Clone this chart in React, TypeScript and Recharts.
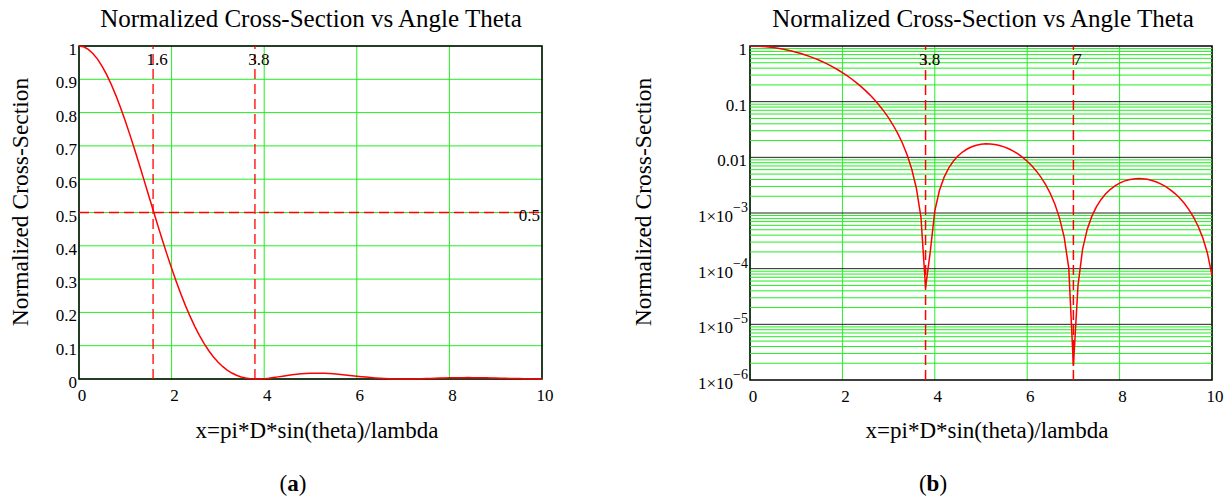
import React from 'react';
import { LineChart, Line, XAxis, YAxis, CartesianGrid, ReferenceLine, ReferenceArea } from 'recharts';

// x = pi*D*sin(theta)/lambda, sampled every 0.1
const xValues = [
  0, 0.1, 0.2, 0.3, 0.4, 0.5, 0.6, 0.7, 0.8, 0.9,
  1, 1.1, 1.2, 1.3, 1.4, 1.5, 1.6, 1.7, 1.8, 1.9,
  2, 2.1, 2.2, 2.3, 2.4, 2.5, 2.6, 2.7, 2.8, 2.9,
  3, 3.1, 3.2, 3.3, 3.4, 3.5, 3.6, 3.7, 3.8, 3.9,
  4, 4.1, 4.2, 4.3, 4.4, 4.5, 4.6, 4.7, 4.8, 4.9,
  5, 5.1, 5.2, 5.3, 5.4, 5.5, 5.6, 5.7, 5.8, 5.9,
  6, 6.1, 6.2, 6.3, 6.4, 6.5, 6.6, 6.7, 6.8, 6.9,
  7, 7.1, 7.2, 7.3, 7.4, 7.5, 7.6, 7.7, 7.8, 7.9,
  8, 8.1, 8.2, 8.3, 8.4, 8.5, 8.6, 8.7, 8.8, 8.9,
  9, 9.1, 9.2, 9.3, 9.4, 9.5, 9.6, 9.7, 9.8, 9.9,
  10,
];

// normalized cross-section
const crossSection = [
  1, 0.9976, 0.99, 0.9777, 0.9607, 0.9391, 0.9133, 0.8836, 0.8503, 0.8138,
  0.7746, 0.7331, 0.6897, 0.645, 0.5994, 0.5534, 0.5075, 0.462, 0.4175, 0.3742,
  0.3326, 0.2929, 0.2555, 0.2204, 0.1879, 0.1581, 0.1312, 0.107, 0.08564, 0.06704,
  0.05109, 0.03769, 0.02668, 0.01788, 0.01112, 0.006163, 0.002813, 0.0008466, 0.00004553, 0.0001951,
  0.00109, 0.002538, 0.004359, 0.006393, 0.008496, 0.01055, 0.01244, 0.0141, 0.01547, 0.0165,
  0.01717, 0.01748, 0.01743, 0.01704, 0.01636, 0.01542, 0.01426, 0.01294, 0.0115, 0.01001,
  0.008506, 0.007037, 0.005645, 0.004364, 0.003222, 0.002241, 0.001434, 0.00081, 0.000368, 0.0001023,
  0.000001788, 0.00005019, 0.0002278, 0.0005118, 0.0008779, 0.001301, 0.001755, 0.002218, 0.002666, 0.003079,
  0.003441, 0.003738, 0.00396, 0.0041, 0.004157, 0.00413, 0.004023, 0.003845, 0.003602, 0.003307,
  0.002972, 0.00261, 0.002234, 0.001858, 0.001493, 0.001153, 0.0008449, 0.0005784, 0.000359, 0.0001908,
  0.00007559,
];

const xTicks = [0, 2, 4, 6, 8, 10];
const linearTicks = [0, 0.1, 0.2, 0.3, 0.4, 0.5, 0.6, 0.7, 0.8, 0.9, 1];
const logTicks = [1e-6, 1e-5, 1e-4, 1e-3, 0.01, 0.1, 1];
const minorSteps = [2, 3, 4, 5, 6, 7, 8, 9];
const markersA = [1.6, 3.8];
const markersB = [3.8, 7];
const halfLevel = 0.5;

const chartTitle = 'Normalized Cross-Section vs Angle Theta';
const yTitle = 'Normalized Cross-Section';
const xTitle = 'x=pi*D*sin(theta)/lambda';

const SERIF = '"Liberation Serif", "Times New Roman", serif';
const GREEN = '#22ee22';
const RED = '#ff0000';

const data = xValues.map((x, i) => ({ x, y: crossSection[i] }));
const minorGrid = logTicks.slice(0, -1).flatMap(d => minorSteps.map(k => k * d));

const XTick = (props: any) => {
  const { x, y, payload } = props;
  return (
    <text x={x + 3} y={y + 22} textAnchor="middle" fontSize={17} fontFamily={SERIF} fill="#000">
      {payload.value}
    </text>
  );
};

const YTickA = (props: any) => {
  const { x, y, payload } = props;
  return (
    <text x={x - 2} y={y + 9} textAnchor="end" fontSize={17} fontFamily={SERIF} fill="#000">
      {payload.value}
    </text>
  );
};

const YTickB = (props: any) => {
  const { x, y, payload } = props;
  const v = payload.value;
  if (v >= 0.01) {
    return (
      <text x={x - 3} y={y + 9} textAnchor="end" fontSize={17} fontFamily={SERIF} fill="#000">
        {String(v)}
      </text>
    );
  }
  const exp = Math.round(Math.log10(v));
  return (
    <text x={x - 2} y={y + 9} textAnchor="end" fontSize={17} fontFamily={SERIF} fill="#000">
      <tspan>1×10</tspan>
      <tspan dy={-10} fontSize={14}>{'\u2212' + Math.abs(exp)}</tspan>
    </text>
  );
};

const MarkLabel = (props: any) => {
  const { viewBox, text } = props;
  return (
    <text x={viewBox.x + 4} y={viewBox.y + 19} textAnchor="middle" fontSize={17} fontFamily={SERIF} fill="#000">
      {text}
    </text>
  );
};

const LevelLabel = (props: any) => {
  const { viewBox, text } = props;
  return (
    <text x={viewBox.x + viewBox.width - 2} y={viewBox.y + 8} textAnchor="end" fontSize={17} fontFamily={SERIF} fill="#000">
      {text}
    </text>
  );
};

const Titles = ({ titleX, yLabelX, xLabelX, captionX, caption }: any) => (
  <g fontFamily={SERIF} fill="#000">
    <text x={titleX} y={27} textAnchor="middle" fontSize={25}>{chartTitle}</text>
    <text x={yLabelX} y={202} textAnchor="middle" fontSize={23.5} transform={`rotate(-90 ${yLabelX} 202)`}>{yTitle}</text>
    <text x={xLabelX} y={438} textAnchor="middle" fontSize={23}>{xTitle}</text>
    <text x={captionX} y={491} textAnchor="middle" fontSize={23}>
      (<tspan fontWeight="bold">{caption}</tspan>)
    </text>
  </g>
);

const App: React.FC = () => {
  return (
    <div style={{ position: 'absolute', left: 0, top: 0, width: 1232, height: 501, background: '#fff' }}>
      <div style={{ position: 'absolute', left: 0, top: 0 }}>
        <LineChart width={616} height={501} data={data} margin={{ top: 46, right: 74, bottom: 92, left: 0 }}>
          <CartesianGrid stroke={GREEN} strokeWidth={1} />
          <XAxis dataKey="x" type="number" domain={[0, 10]} ticks={xTicks} tick={<XTick />}
            tickLine={false} axisLine={false} tickSize={0} tickMargin={0} height={30} />
          <YAxis type="number" domain={[0, 1]} ticks={linearTicks} tick={<YTickA />}
            tickLine={false} axisLine={false} tickSize={0} tickMargin={0} width={79} />
          <ReferenceArea x1={0} x2={10} y1={0} y2={1} fill="none" stroke="#000" strokeWidth={1.5} />
          {markersA.map(m => (
            <ReferenceLine key={m} x={m} stroke={RED} strokeWidth={1.3} strokeDasharray="10 5"
              label={<MarkLabel text={String(m)} />} />
          ))}
          <ReferenceLine y={halfLevel} stroke={RED} strokeWidth={1.3} strokeDasharray="10 5"
            label={<LevelLabel text={String(halfLevel)} />} />
          <Line dataKey="y" stroke={RED} strokeWidth={1.5} dot={false} isAnimationActive={false} />
          <Titles titleX={311} yLabelX={28} xLabelX={317} captionX={293} caption="a" />
        </LineChart>
      </div>
      <div style={{ position: 'absolute', left: 616, top: 0 }}>
        <LineChart width={616} height={501} data={data} margin={{ top: 46, right: 20, bottom: 91, left: 0 }}>
          <CartesianGrid stroke={GREEN} strokeWidth={1} horizontal={false} />
          <XAxis dataKey="x" type="number" domain={[0, 10]} ticks={xTicks} tick={<XTick />}
            tickLine={false} axisLine={false} tickSize={0} tickMargin={0} height={30} />
          <YAxis type="number" scale="log" domain={[1e-6, 1]} allowDataOverflow ticks={logTicks} tick={<YTickB />}
            tickLine={false} axisLine={false} tickSize={0} tickMargin={0} width={134} />
          {minorGrid.map(v => (
            <ReferenceLine key={'m' + v} y={v} stroke={GREEN} strokeWidth={1} />
          ))}
          {logTicks.slice(1, -1).map(v => (
            <ReferenceLine key={'d' + v} y={v} stroke="#222" strokeWidth={1} />
          ))}
          <ReferenceArea x1={0} x2={10} y1={1e-6} y2={1} fill="none" stroke="#000" strokeWidth={1.5} />
          {markersB.map(m => (
            <ReferenceLine key={m} x={m} stroke={RED} strokeWidth={1.5} strokeDasharray="10 5"
              label={<MarkLabel text={String(m)} />} />
          ))}
          <Line dataKey="y" stroke={RED} strokeWidth={1.5} dot={false} isAnimationActive={false} />
          <Titles titleX={367} yLabelX={35} xLabelX={371} captionX={317} caption="b" />
        </LineChart>
      </div>
    </div>
  );
};

export default App;
